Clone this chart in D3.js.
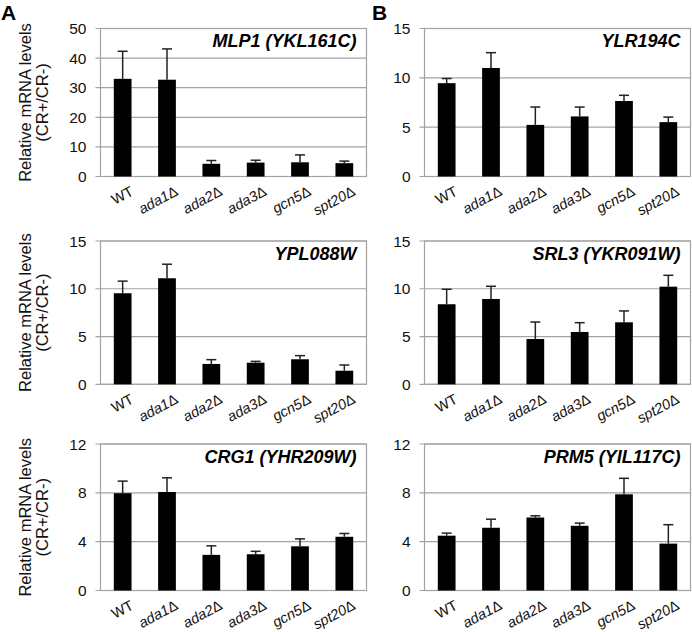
<!DOCTYPE html>
<html>
<head>
<meta charset="utf-8">
<script src="https://cdn.jsdelivr.net/npm/d3@7"></script>
<style>
  body { margin: 0; background: #fff; }
  svg { display: block; font-family: "Liberation Sans", Arial, sans-serif; }
</style>
</head>
<body>
<svg id="chart" width="692" height="632"></svg>
<script>
// strains on the x axis
const strains = ["WT", "ada1Δ", "ada2Δ", "ada3Δ", "gcn5Δ", "spt20Δ"];

// gene shown in each panel (row by row, A then B)
const genes = ["MLP1 (YKL161C)", "YLR194C", "YPL088W", "SRL3 (YKR091W)", "CRG1 (YHR209W)", "PRM5 (YIL117C)"];

// mean relative mRNA levels
const mlp1 = [33.0, 32.7, 4.3, 4.7, 4.8, 4.5];
const ylr194c = [9.46, 11.0, 5.23, 6.09, 7.65, 5.51];
const ypl088w = [9.53, 11.1, 2.13, 2.26, 2.62, 1.42];
const srl3 = [8.38, 8.93, 4.74, 5.48, 6.49, 10.22];
const crg1 = [7.97, 8.07, 2.92, 2.97, 3.62, 4.4];
const prm5 = [4.49, 5.14, 5.98, 5.3, 7.88, 3.84];

// upper error bars (SD)
const mlp1_err = [9.3, 10.4, 1.1, 0.8, 2.5, 0.7];
const ylr194c_err = [0.47, 1.55, 1.81, 0.95, 0.58, 0.51];
const ypl088w_err = [1.27, 1.47, 0.45, 0.14, 0.38, 0.6];
const srl3_err = [1.57, 1.33, 1.78, 0.97, 1.19, 1.19];
const crg1_err = [0.99, 1.16, 0.74, 0.24, 0.61, 0.27];
const prm5_err = [0.21, 0.70, 0.14, 0.22, 1.31, 1.55];

// y axis maximum and tick step of each panel
const y_max = [50, 15, 15, 15, 12, 12];
const y_step = [10, 5, 5, 5, 4, 4];

const y_title = ["Relative mRNA levels", "(CR+/CR-)"];
const panel_letters = ["A", "B"];

const means = [mlp1, ylr194c, ypl088w, srl3, crg1, prm5];
const errs = [mlp1_err, ylr194c_err, ypl088w_err, srl3_err, crg1_err, prm5_err];

const svg = d3.select("#chart");
const grid_color = "#a3a3a3";

// panel frames: column left/right, row top/bottom
const cols = [[100.5, 366.5], [424.5, 690.5]];
const rows = [[28.5, 176.5], [241, 384.3], [444, 590.5]];

function drawPanel(i) {
	const col = i % 2, row = Math.floor(i / 2);
	const [x0, x1] = cols[col];
	const [y0, y1] = rows[row];

	const x_scale = d3.scaleBand()
		.domain(strains)
		.range([x0, x1])
		.paddingInner(0.6)
		.paddingOuter(0.3);
	const y_scale = d3.scaleLinear()
		.domain([0, y_max[i]])
		.range([y1, y0]);
	const ticks = d3.range(0, y_max[i] + 0.001, y_step[i]);

	const g = svg.append("g");

	// gridlines
	g.selectAll("line.grid")
		.data(ticks)
		.join("line")
		.attr("x1", x0 - 5)
		.attr("x2", x1)
		.attr("y1", d => y_scale(d))
		.attr("y2", d => y_scale(d))
		.attr("stroke", grid_color)
		.attr("stroke-width", 1.2);

	// frame
	g.append("rect")
		.attr("x", x0).attr("y", y0)
		.attr("width", x1 - x0).attr("height", y1 - y0)
		.attr("fill", "none")
		.attr("stroke", grid_color)
		.attr("stroke-width", 1.2);

	// y tick labels
	g.selectAll("text.tick")
		.data(ticks)
		.join("text")
		.attr("x", x0 - 14)
		.attr("y", d => y_scale(d))
		.attr("dy", "0.36em")
		.attr("text-anchor", "end")
		.attr("font-size", 15.5)
		.attr("fill", "#111")
		.text(d => d);

	// bars
	const data = strains.map((s, j) => ({ s: s, v: means[i][j], e: errs[i][j] }));
	g.selectAll("rect.bar")
		.data(data)
		.join("rect")
		.attr("x", d => x_scale(d.s))
		.attr("y", d => y_scale(d.v))
		.attr("width", x_scale.bandwidth())
		.attr("height", d => y1 - y_scale(d.v))
		.attr("fill", "#000");

	// error bars (upper only)
	const cx = d => x_scale(d.s) + x_scale.bandwidth() / 2;
	g.selectAll("line.err")
		.data(data)
		.join("line")
		.attr("x1", cx).attr("x2", cx)
		.attr("y1", d => y_scale(d.v))
		.attr("y2", d => y_scale(d.v + d.e))
		.attr("stroke", "#222")
		.attr("stroke-width", 1.5);
	g.selectAll("line.cap")
		.data(data)
		.join("line")
		.attr("x1", d => cx(d) - 5).attr("x2", d => cx(d) + 5)
		.attr("y1", d => y_scale(d.v + d.e))
		.attr("y2", d => y_scale(d.v + d.e))
		.attr("stroke", "#222")
		.attr("stroke-width", 1.5);

	// rotated strain labels, gene name italic, delta upright
	const lab = g.selectAll("text.xlab")
		.data(strains)
		.join("text")
		.attr("transform", d => `translate(${x_scale(d) + x_scale.bandwidth() / 2 + 12}, ${y1 + 18}) rotate(-28)`)
		.attr("text-anchor", "end")
		.attr("font-size", 14.5)
		.attr("fill", "#111");
	lab.each(function(d) {
		const t = d3.select(this);
		if (d.endsWith("Δ")) {
			t.append("tspan").attr("font-style", "italic").text(d.slice(0, -1));
			t.append("tspan").text("Δ");
		} else {
			t.text(d);
		}
	});

	// gene title
	g.append("text")
		.attr("x", x1 - 10)
		.attr("y", y0 + 18.5)
		.attr("text-anchor", "end")
		.attr("font-size", 18)
		.attr("font-weight", "bold")
		.attr("font-style", "italic")
		.attr("fill", "#000")
		.text(genes[i]);

	// y title in column A
	if (col === 0) {
		const ym = (y0 + y1) / 2;
		g.selectAll("text.ytitle")
			.data(y_title)
			.join("text")
			.attr("transform", (d, k) => `translate(${31 + k * 17}, ${ym}) rotate(-90)`)
			.attr("text-anchor", "middle")
			.attr("font-size", 16.5)
			.attr("fill", "#111")
			.text(d => d);
	}
}

for (let i = 0; i < 6; i++) drawPanel(i);

// panel letters
svg.selectAll("text.letter")
	.data(panel_letters)
	.join("text")
	.attr("x", (d, k) => k === 0 ? 1 : 372)
	.attr("y", 20)
	.attr("font-size", 21)
	.attr("font-weight", "bold")
	.text(d => d);
</script>
</body>
</html>
